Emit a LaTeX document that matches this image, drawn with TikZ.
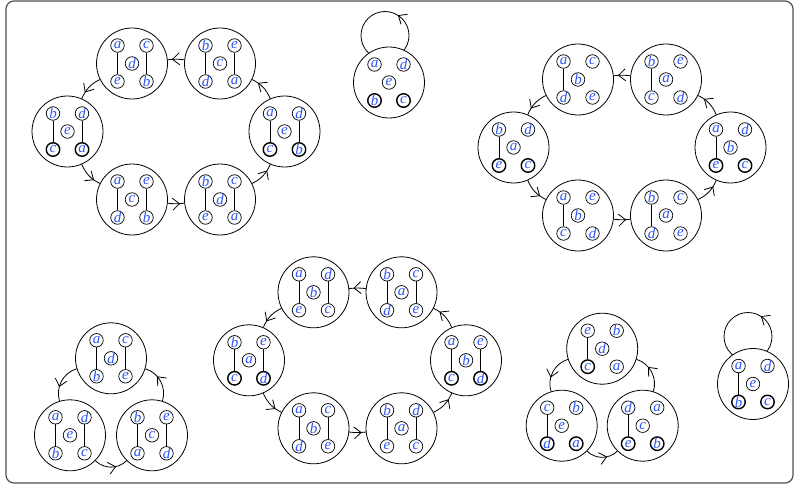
\documentclass[tikz,border=0pt]{standalone}
\usepackage{fontspec}
\setmainfont{Liberation Serif}
\usepackage{xcolor}
\usepackage{tikz}
\usetikzlibrary{arrows.meta,backgrounds,decorations.markings}
\definecolor{letterBlue}{RGB}{45,85,250}
\definecolor{frameGray}{RGB}{80,80,80}

% one configuration: big circle and five lettered sites
\newcommand{\placestate}[3]{%
  \node[bigstate] (#1) at (#2) {};
  \foreach \l/\p/\s in {#3}
    \node[letter,\p,\s] (#1\l) at (#1) {\l};
}

\begin{document}
\begin{tikzpicture}[x=1pt,y=1pt,
    bigstate/.style={circle, draw, fill=white, line width=0.8pt, minimum size=71pt, inner sep=0pt},
    letter/.style={circle, draw, fill=white, line width=0.7pt, minimum size=13.5pt, inner sep=0pt,
        text=letterBlue, font=\fontsize{15}{16}\selectfont\itshape},
    hl/.style={line width=1.4pt},
    nrm/.style={},
    pTL/.style={xshift=-14.5pt, yshift=18pt},
    pTR/.style={xshift=14.5pt, yshift=18pt},
    pC/.style={},
    pBL/.style={xshift=-14.5pt, yshift=-18pt},
    pBR/.style={xshift=14.5pt, yshift=-18pt},
    bond/.style={line width=0.9pt},
    flow/.style={line width=0.8pt, postaction={decorate},
        decoration={markings, mark=at position #1 with {\arrow{Straight Barb[length=7pt,width=12pt]}}}},
    flow/.default=0.75,
    loopflow/.style={line width=0.8pt, postaction={decorate},
        decoration={markings, mark=at position 0.16 with {\arrow{Straight Barb[length=7pt,width=12pt]}}}}]

    \useasboundingbox (0,0) rectangle (794,-489);
    \draw[frameGray, line width=1.2pt, rounded corners=8pt] (6,-1) rectangle (793,-483);

    % six-cycle, top left
    \begin{scope}[shift={(176,-131.5)}]
        \placestate{C1}{-44,68}{a/pTL/nrm, c/pTR/nrm, d/pC/nrm, e/pBL/nrm, b/pBR/nrm}
        \placestate{C2}{44,68}{b/pTL/nrm, e/pTR/nrm, c/pC/nrm, d/pBL/nrm, a/pBR/nrm}
        \placestate{C3}{108.5,0}{a/pTL/nrm, d/pTR/nrm, e/pC/nrm, c/pBL/hl, b/pBR/hl}
        \placestate{C4}{44,-68}{b/pTL/nrm, c/pTR/nrm, d/pC/nrm, e/pBL/nrm, a/pBR/nrm}
        \placestate{C5}{-44,-68}{a/pTL/nrm, e/pTR/nrm, c/pC/nrm, d/pBL/nrm, b/pBR/nrm}
        \placestate{C6}{-108.5,0}{b/pTL/nrm, d/pTR/nrm, e/pC/nrm, c/pBL/hl, a/pBR/hl}
        \draw[bond] (C1a) -- (C1e) (C1c) -- (C1b);
        \draw[bond] (C2b) -- (C2d) (C2e) -- (C2a);
        \draw[bond] (C3a) -- (C3c) (C3d) -- (C3b);
        \draw[bond] (C4b) -- (C4e) (C4c) -- (C4a);
        \draw[bond] (C5a) -- (C5d) (C5e) -- (C5b);
        \draw[bond] (C6b) -- (C6c) (C6d) -- (C6a);
        \draw[flow] (C2) to[bend right=6] (C1);
        \draw[flow] (C1) to[bend right=20] (C6);
        \draw[flow] (C6) to[bend right=20] (C5);
        \draw[flow] (C5) to[bend right=6] (C4);
        \draw[flow] (C4) to[bend right=20] (C3);
        \draw[flow] (C3) to[bend right=20] (C2);
    \end{scope}

    % fixed point, top middle
    \placestate{L1}{389,-82.5}{a/pTL/nrm, d/pTR/nrm, e/pC/nrm, b/pBL/hl, c/pBR/hl}
    \coordinate (L1o) at ([xshift=-4pt,yshift=47pt]L1.center);

    % six-cycle, top right
    \begin{scope}[shift={(622,-147.5)}]
        \placestate{D1}{-44,68}{a/pTL/nrm, c/pTR/nrm, b/pC/nrm, d/pBL/nrm, e/pBR/nrm}
        \placestate{D2}{44,68}{b/pTL/nrm, e/pTR/nrm, a/pC/nrm, c/pBL/nrm, d/pBR/nrm}
        \placestate{D3}{108.5,0}{a/pTL/nrm, d/pTR/nrm, b/pC/nrm, e/pBL/hl, c/pBR/hl}
        \placestate{D4}{44,-68}{b/pTL/nrm, c/pTR/nrm, a/pC/nrm, d/pBL/nrm, e/pBR/nrm}
        \placestate{D5}{-44,-68}{a/pTL/nrm, e/pTR/nrm, b/pC/nrm, c/pBL/nrm, d/pBR/nrm}
        \placestate{D6}{-108.5,0}{b/pTL/nrm, d/pTR/nrm, a/pC/nrm, e/pBL/hl, c/pBR/hl}
        \draw[bond] (D1a) -- (D1d);
        \draw[bond] (D2b) -- (D2c);
        \draw[bond] (D3a) -- (D3e);
        \draw[bond] (D4b) -- (D4d);
        \draw[bond] (D5a) -- (D5c);
        \draw[bond] (D6b) -- (D6e);
        \draw[flow] (D2) to[bend right=6] (D1);
        \draw[flow] (D1) to[bend right=20] (D6);
        \draw[flow] (D6) to[bend right=20] (D5);
        \draw[flow] (D5) to[bend right=6] (D4);
        \draw[flow] (D4) to[bend right=20] (D3);
        \draw[flow] (D3) to[bend right=20] (D2);
    \end{scope}

    % three-cycle, bottom left
    \begin{scope}[shift={(111,-358.3)}]
        \placestate{E1}{0,0}{a/pTL/nrm, c/pTR/nrm, d/pC/nrm, b/pBL/nrm, e/pBR/nrm}
        \placestate{E2}{-41,-77}{a/pTL/nrm, d/pTR/nrm, e/pC/nrm, b/pBL/nrm, c/pBR/nrm}
        \placestate{E3}{41,-77}{b/pTL/nrm, e/pTR/nrm, c/pC/nrm, a/pBL/nrm, d/pBR/nrm}
        \draw[bond] (E1a) -- (E1b) (E1c) -- (E1e);
        \draw[bond] (E2a) -- (E2b) (E2d) -- (E2c);
        \draw[bond] (E3b) -- (E3a) (E3e) -- (E3d);
        \draw[flow=0.65] (E1) to[bend right=45] (E2);
        \draw[flow=0.65] (E2) to[bend right=45] (E3);
        \draw[flow=0.65] (E3) to[bend right=45] (E1);
    \end{scope}

    % six-cycle, bottom middle
    \begin{scope}[shift={(357.5,-360.3)}]
        \placestate{F1}{-44,68}{a/pTL/nrm, d/pTR/nrm, b/pC/nrm, e/pBL/nrm, c/pBR/nrm}
        \placestate{F2}{44,68}{b/pTL/nrm, c/pTR/nrm, a/pC/nrm, d/pBL/nrm, e/pBR/nrm}
        \placestate{F3}{108.5,0}{a/pTL/nrm, e/pTR/nrm, b/pC/nrm, c/pBL/hl, d/pBR/hl}
        \placestate{F4}{44,-68}{b/pTL/nrm, d/pTR/nrm, a/pC/nrm, e/pBL/nrm, c/pBR/nrm}
        \placestate{F5}{-44,-68}{a/pTL/nrm, c/pTR/nrm, b/pC/nrm, d/pBL/nrm, e/pBR/nrm}
        \placestate{F6}{-108.5,0}{b/pTL/nrm, e/pTR/nrm, a/pC/nrm, c/pBL/hl, d/pBR/hl}
        \draw[bond] (F1a) -- (F1e) (F1d) -- (F1c);
        \draw[bond] (F2b) -- (F2d) (F2c) -- (F2e);
        \draw[bond] (F3a) -- (F3c) (F3e) -- (F3d);
        \draw[bond] (F4b) -- (F4e) (F4d) -- (F4c);
        \draw[bond] (F5a) -- (F5d) (F5c) -- (F5e);
        \draw[bond] (F6b) -- (F6c) (F6e) -- (F6d);
        \draw[flow] (F2) to[bend right=6] (F1);
        \draw[flow] (F1) to[bend right=20] (F6);
        \draw[flow] (F6) to[bend right=20] (F5);
        \draw[flow] (F5) to[bend right=6] (F4);
        \draw[flow] (F4) to[bend right=20] (F3);
        \draw[flow] (F3) to[bend right=20] (F2);
    \end{scope}

    % three-cycle, bottom right
    \begin{scope}[shift={(602.2,-348.7)}]
        \placestate{G1}{0,0}{e/pTL/nrm, b/pTR/nrm, d/pC/nrm, c/pBL/hl, a/pBR/nrm}
        \placestate{G2}{-40.5,-77}{c/pTL/nrm, b/pTR/nrm, e/pC/nrm, d/pBL/hl, a/pBR/hl}
        \placestate{G3}{40.5,-77}{d/pTL/nrm, a/pTR/nrm, c/pC/nrm, e/pBL/hl, b/pBR/hl}
        \draw[bond] (G1e) -- (G1c);
        \draw[bond] (G2c) -- (G2d);
        \draw[bond] (G3d) -- (G3e);
        \draw[flow=0.65] (G1) to[bend right=45] (G2);
        \draw[flow=0.65] (G2) to[bend right=45] (G3);
        \draw[flow=0.65] (G3) to[bend right=45] (G1);
    \end{scope}

    % fixed point, bottom right
    \placestate{L2}{753,-384}{a/pTL/nrm, d/pTR/nrm, e/pC/nrm, b/pBL/hl, c/pBR/hl}
    \draw[bond] (L2a) -- (L2b);
    \coordinate (L2o) at ([xshift=-5pt,yshift=47.5pt]L2.center);

    \begin{scope}[on background layer]
        \draw[loopflow] (L1o) circle (24);
        \draw[loopflow] (L2o) circle (24);
    \end{scope}
\end{tikzpicture}
\end{document}
